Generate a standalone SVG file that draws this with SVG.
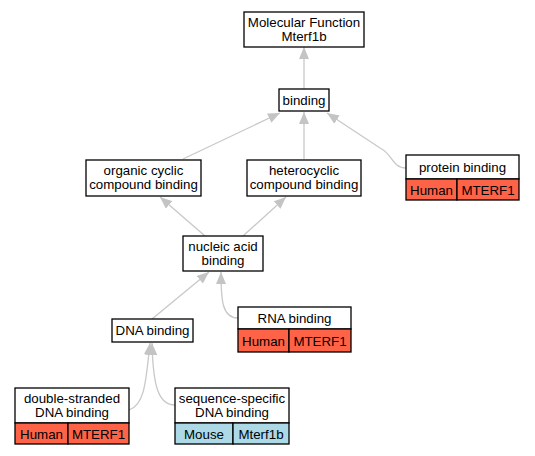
<svg xmlns="http://www.w3.org/2000/svg" width="535" height="456" viewBox="0 0 535 456">
<style>
text{font-family:"Liberation Sans",Arial,sans-serif;font-size:13.3px;fill:#000;text-anchor:middle}
.b{fill:#fff;stroke:#000;stroke-width:1.3}
.h{fill:#ff6347;stroke:#000;stroke-width:1.3}
.m{fill:#add8e6;stroke:#000;stroke-width:1.3}
.e{fill:none;stroke:#c8c8c8;stroke-width:1.3;marker-end:url(#a)}
</style>
<defs>
<marker id="a" viewBox="0 0 12 10" refX="12" refY="5" markerWidth="12" markerHeight="10" markerUnits="userSpaceOnUse" orient="auto">
<path d="M0,0L12,5L0,10z" fill="#c4c4c4"/>
</marker>
</defs>
<rect width="535" height="456" fill="#fff"/>
<g id="edges">
<path class="e" d="M304,89L304,47"/>
<path class="e" d="M183,159L280,113"/>
<path class="e" d="M304,159L304,112"/>
<path class="e" d="M406,168C392,168 392,153 380,148L327,113"/>
<path class="e" d="M205,236L160,197"/>
<path class="e" d="M243,236L286,197"/>
<path class="e" d="M152,319L209,272"/>
<path class="e" d="M238,318C222,318 221,300 221,272"/>
<path class="e" d="M129,410C145,405 146,380 150,343"/>
<path class="e" d="M175,405C158,405 153,385 152,343"/>
</g>
<g id="n_mf"><rect class="b" x="244" y="12" width="120" height="35"/><text x="304" y="27">Molecular Function</text><text x="304" y="41">Mterf1b</text></g>
<g id="n_binding"><rect class="b" x="279" y="89" width="50" height="22"/><text x="304" y="105">binding</text></g>
<g id="n_organic"><rect class="b" x="86" y="160" width="115" height="36"/><text x="143.5" y="175">organic cyclic</text><text x="143.5" y="189">compound binding</text></g>
<g id="n_hetero"><rect class="b" x="247" y="160" width="114" height="36"/><text x="304" y="175">heterocyclic</text><text x="304" y="189">compound binding</text></g>
<g id="n_protein"><rect class="b" x="406" y="155" width="113" height="24"/><text x="462.5" y="172">protein binding</text><rect class="h" x="406" y="179" width="51" height="21"/><rect class="h" x="457" y="179" width="62" height="21"/><text x="431.5" y="194.5">Human</text><text x="488" y="194.5">MTERF1</text></g>
<g id="n_nucleic"><rect class="b" x="183" y="236" width="80" height="35"/><text x="223" y="251">nucleic acid</text><text x="223" y="265">binding</text></g>
<g id="n_dna"><rect class="b" x="112" y="319" width="81" height="23"/><text x="152.5" y="335">DNA binding</text></g>
<g id="n_rna"><rect class="b" x="238" y="307" width="113" height="22"/><text x="294.5" y="323">RNA binding</text><rect class="h" x="238" y="329" width="51" height="23"/><rect class="h" x="289" y="329" width="62" height="23"/><text x="263.5" y="345.5">Human</text><text x="320" y="345.5">MTERF1</text></g>
<g id="n_ds"><rect class="b" x="15" y="388" width="114" height="35"/><text x="72" y="403">double-stranded</text><text x="72" y="417">DNA binding</text><rect class="h" x="15" y="423" width="53" height="21"/><rect class="h" x="68" y="423" width="61" height="21"/><text x="41.5" y="438.5">Human</text><text x="98.5" y="438.5">MTERF1</text></g>
<g id="n_ss"><rect class="b" x="175" y="388" width="114" height="35"/><text x="232" y="403">sequence-specific</text><text x="232" y="417">DNA binding</text><rect class="m" x="175" y="423" width="58" height="21"/><rect class="m" x="233" y="423" width="56" height="21"/><text x="204" y="438.5">Mouse</text><text x="261" y="438.5">Mterf1b</text></g>
</svg>
